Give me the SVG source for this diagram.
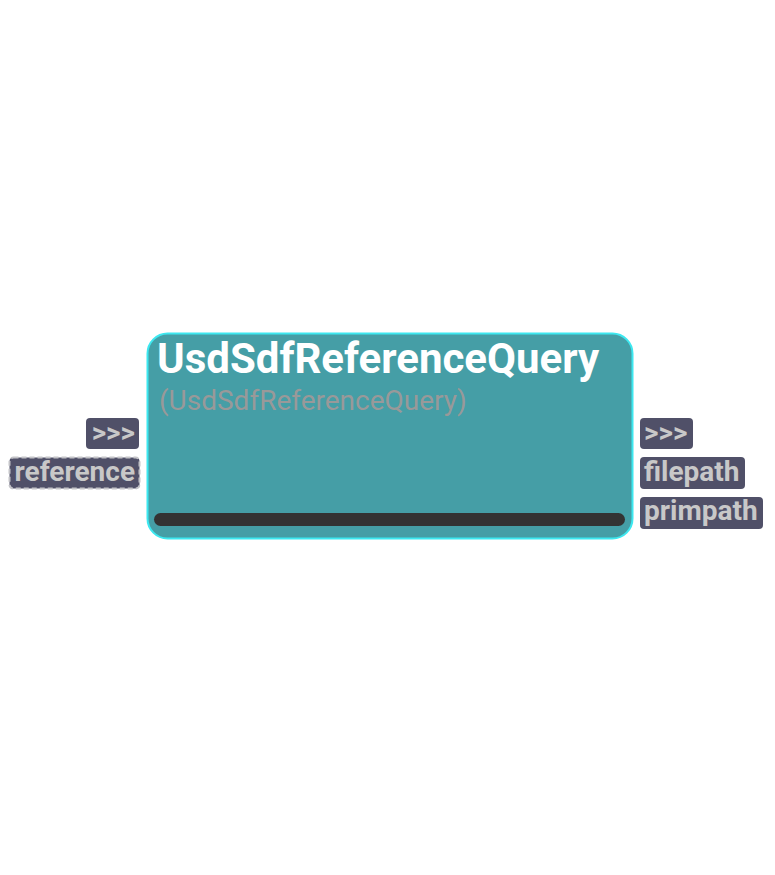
<svg xmlns="http://www.w3.org/2000/svg" width="775" height="875" viewBox="0 0 775 875">
<style>
.port{fill:#505068;}
.pt{font-family:Roboto,"Liberation Sans",sans-serif;font-weight:bold;font-size:28px;fill:#c8c8c8;}
</style>
<rect width="775" height="875" fill="#ffffff"/>
<g id="connectors"/>
<g id="node-UsdSdfReferenceQuery">
<rect x="147.5" y="333.5" width="485" height="205" rx="20" ry="20" fill="#459ea6" stroke="#3de8f0" stroke-width="2"/>
<text x="157" y="373" font-family="Roboto,'Liberation Sans',sans-serif" font-weight="bold" font-size="42" fill="#ffffff">UsdSdfReferenceQuery</text>
<text x="159" y="410" font-family="Roboto,'Liberation Sans',sans-serif" font-size="28" fill="#999999">(UsdSdfReferenceQuery)</text>
<rect x="154" y="513" width="471" height="13" rx="6.5" fill="#333333"/>
</g>
<g id="port-in-exec">
<rect class="port" x="86" y="418" width="53" height="31" rx="4"/>
<text class="pt" x="135" y="442" text-anchor="end">&gt;&gt;&gt;</text>
</g>
<g id="port-in-reference">
<rect class="port" x="9.5" y="457.5" width="130" height="31" rx="4" stroke="#c4c4c8" stroke-width="2" stroke-dasharray="5,3"/>
<text class="pt" x="135" y="481" text-anchor="end">reference</text>
</g>
<g id="port-out-exec">
<rect class="port" x="640" y="418" width="53" height="31" rx="4"/>
<text class="pt" x="644" y="442">&gt;&gt;&gt;</text>
</g>
<g id="port-out-filepath">
<rect class="port" x="640" y="457" width="105" height="32" rx="4"/>
<text class="pt" x="644" y="481">filepath</text>
</g>
<g id="port-out-primpath">
<rect class="port" x="640" y="497" width="123" height="32" rx="4"/>
<text class="pt" x="644" y="520">primpath</text>
</g>
</svg>
